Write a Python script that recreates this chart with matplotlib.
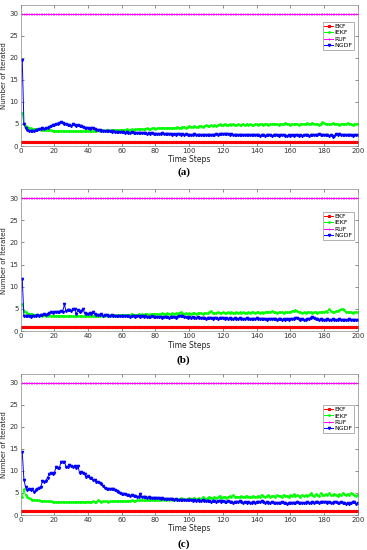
import numpy as np
import matplotlib
matplotlib.use("Agg")
import matplotlib.pyplot as plt

steps = list(range(1, 201))

# constant iteration counts
ekf = [1.0] * 200
ruf = [30.0] * 200

# ---- panel (a)
iekf_a = [7.5, 5.0, 4.5, 4.3, 4.1, 4.0, 3.9, 3.9, 3.8, 3.8,
          3.8, 3.7, 3.7, 3.7, 3.6, 3.6, 3.6, 3.6, 3.5, 3.5,
          3.5, 3.5, 3.5, 3.4, 3.4, 3.4, 3.4, 3.4, 3.4, 3.3,
          3.4, 3.3, 3.4, 3.3, 3.4, 3.4, 3.4, 3.4, 3.5, 3.4,
          3.5, 3.4, 3.5, 3.5, 3.5, 3.6, 3.5, 3.6, 3.6, 3.5,
          3.6, 3.6, 3.5, 3.7, 3.6, 3.6, 3.7, 3.6, 3.7, 3.7,
          3.6, 3.7, 3.8, 3.7, 3.7, 3.8, 3.7, 3.8, 3.8, 3.9,
          3.8, 3.9, 3.8, 3.9, 4.0, 3.9, 3.8, 4.0, 4.1, 3.9,
          4.0, 4.1, 4.0, 4.2, 4.1, 4.0, 4.1, 4.2, 4.1, 4.2,
          4.1, 4.2, 4.3, 4.1, 4.2, 4.3, 4.4, 4.2, 4.3, 4.5,
          4.4, 4.3, 4.5, 4.4, 4.3, 4.5, 4.6, 4.4, 4.5, 4.7,
          4.6, 4.5, 4.7, 4.6, 4.8, 4.6, 4.7, 4.9, 4.7, 4.8,
          5.0, 4.8, 4.7, 4.9, 4.8, 5.0, 4.7, 4.8, 4.9, 4.8,
          4.7, 4.9, 4.8, 5.0, 4.8, 4.9, 4.7, 4.8, 5.0, 4.9,
          4.8, 5.0, 4.9, 4.8, 5.1, 4.9, 4.8, 5.0, 4.9, 5.1,
          4.9, 5.0, 4.8, 5.1, 4.9, 5.0, 5.2, 4.9, 5.0, 4.8,
          5.0, 4.9, 5.1, 5.0, 4.8, 5.0, 5.1, 4.9, 5.0, 5.2,
          4.9, 5.1, 5.3, 5.0, 4.9, 5.0, 4.8, 5.1, 5.4, 5.2,
          5.0, 5.1, 4.9, 5.0, 5.2, 4.9, 5.0, 5.1, 4.8, 5.0,
          5.1, 4.9, 5.0, 5.2, 4.9, 5.0, 4.8, 5.0, 4.9, 5.1]
ngdf_a = [19.5, 5.0, 4.0, 3.6, 3.4, 3.5, 3.3, 3.5, 3.6, 3.7,
          3.8, 3.9, 4.0, 3.9, 4.0, 4.1, 4.3, 4.5, 4.8, 4.7,
          5.0, 4.9, 5.2, 5.5, 5.3, 5.1, 4.9, 4.7, 4.8, 4.6,
          4.9, 4.7, 4.6, 4.8, 4.5, 4.6, 4.3, 4.2, 4.0, 4.1,
          3.9, 4.0, 4.2, 3.8, 3.7, 3.6, 3.6, 3.5, 3.5, 3.4,
          3.4, 3.3, 3.4, 3.2, 3.3, 3.2, 3.2, 3.1, 3.2, 3.1,
          3.1, 3.0, 3.1, 3.0, 3.0, 3.1, 2.9, 3.0, 3.0, 2.9,
          2.9, 3.0, 2.9, 2.9, 2.8, 2.9, 2.8, 2.9, 2.8, 2.8,
          2.8, 2.7, 2.8, 2.9, 2.7, 2.8, 2.7, 2.7, 2.8, 2.6,
          2.7, 2.6, 2.7, 2.8, 2.6, 2.7, 2.6, 2.7, 2.6, 2.6,
          2.5, 2.6, 2.7, 2.6, 2.5, 2.6, 2.6, 2.5, 2.6, 2.5,
          2.6, 2.5, 2.6, 2.5, 2.6, 2.7, 2.6, 2.8, 2.7, 2.8,
          2.7, 2.8, 2.7, 2.6, 2.7, 2.6, 2.5, 2.6, 2.5, 2.4,
          2.5, 2.4, 2.5, 2.4, 2.5, 2.4, 2.6, 2.5, 2.4, 2.5,
          2.4, 2.3, 2.4, 2.5, 2.3, 2.4, 2.5, 2.4, 2.3, 2.4,
          2.5, 2.4, 2.3, 2.4, 2.5, 2.4, 2.3, 2.2, 2.4, 2.3,
          2.4, 2.3, 2.4, 2.5, 2.3, 2.4, 2.3, 2.4, 2.5, 2.4,
          2.3, 2.4, 2.5, 2.4, 2.6, 2.5, 2.7, 2.6, 2.5, 2.6,
          2.4, 2.5, 2.3, 2.4, 2.1, 2.2, 2.8, 2.6, 2.7, 2.5,
          2.6, 2.5, 2.4, 2.6, 2.5, 2.4, 2.3, 2.4, 2.5, 2.4]

# ---- panel (b)
iekf_b = [6.0, 4.6, 4.2, 4.0, 3.9, 3.8, 3.8, 3.7, 3.7, 3.6,
          3.6, 3.6, 3.5, 3.6, 3.5, 3.5, 3.6, 3.5, 3.4, 3.5,
          3.5, 3.4, 3.5, 3.4, 3.5, 3.4, 3.3, 3.4, 3.5, 3.4,
          3.4, 3.3, 3.4, 3.5, 3.4, 3.3, 3.4, 3.4, 3.5, 3.4,
          3.4, 3.5, 3.4, 3.5, 3.5, 3.4, 3.5, 3.6, 3.5, 3.5,
          3.6, 3.5, 3.6, 3.5, 3.6, 3.6, 3.5, 3.6, 3.7, 3.6,
          3.6, 3.7, 3.6, 3.7, 3.6, 3.9, 3.7, 3.6, 3.7, 3.8,
          3.7, 3.8, 3.7, 3.8, 3.9, 3.7, 3.8, 3.8, 3.9, 3.8,
          3.9, 3.8, 3.9, 4.0, 3.8, 3.9, 4.0, 3.9, 3.8, 4.0,
          3.9, 4.0, 3.9, 4.1, 4.3, 4.0, 3.9, 4.0, 3.9, 4.0,
          3.9, 4.0, 4.1, 3.9, 4.0, 4.1, 4.0, 3.9, 4.1, 4.0,
          4.0, 4.2, 4.5, 4.1, 4.0, 4.1, 4.2, 4.0, 4.1, 4.2,
          4.1, 4.0, 4.2, 4.1, 4.3, 4.1, 4.0, 4.2, 4.1, 4.2,
          4.1, 4.2, 4.0, 4.1, 4.2, 4.1, 4.3, 4.2, 4.1, 4.2,
          4.3, 4.1, 4.2, 4.1, 4.2, 4.4, 4.2, 4.3, 4.5, 4.3,
          4.2, 4.1, 4.2, 4.3, 4.2, 4.1, 4.2, 4.3, 4.2, 4.4,
          4.5, 4.6, 4.8, 4.5, 4.3, 4.2, 4.1, 4.2, 4.1, 4.2,
          4.3, 4.2, 4.1, 4.2, 4.3, 4.1, 4.2, 4.3, 4.4, 4.3,
          4.5, 4.4, 4.9, 4.5, 4.3, 4.4, 4.5, 4.6, 4.7, 4.9,
          5.0, 4.7, 4.4, 4.2, 4.3, 4.2, 4.1, 4.2, 4.3, 4.2]
ngdf_b = [11.7, 3.4, 3.5, 3.3, 3.4, 3.2, 3.4, 3.5, 3.4, 3.6,
          3.5, 3.7, 3.6, 3.8, 3.7, 3.9, 4.0, 4.2, 4.1, 4.3,
          4.2, 4.4, 4.3, 4.6, 4.4, 6.0, 4.5, 4.7, 4.8, 4.6,
          4.9, 5.0, 3.9, 4.7, 4.2, 4.6, 5.0, 4.0, 3.8, 3.9,
          4.1, 3.8, 4.2, 3.9, 3.6, 3.7, 3.6, 3.8, 3.5, 3.7,
          3.6, 3.5, 3.4, 3.6, 3.5, 3.4, 3.5, 3.3, 3.4, 3.5,
          3.4, 3.3, 3.4, 3.3, 3.2, 3.4, 3.3, 3.2, 3.3, 3.4,
          3.2, 3.3, 3.2, 3.4, 3.2, 3.1, 3.2, 3.3, 3.2, 3.1,
          3.2, 3.1, 3.2, 3.0, 3.1, 3.2, 3.1, 3.0, 3.1, 3.2,
          3.1, 3.0, 3.2, 3.3, 3.4, 3.3, 3.2, 3.1, 3.0, 3.1,
          3.0, 3.1, 2.9, 3.0, 3.1, 2.9, 3.0, 2.9, 3.0, 2.8,
          2.9, 3.0, 2.9, 2.8, 3.0, 2.9, 2.8, 2.9, 3.0, 2.9,
          2.8, 2.9, 2.8, 2.9, 2.7, 2.8, 2.9, 2.8, 2.7, 2.9,
          2.8, 2.7, 2.8, 2.9, 2.8, 2.7, 2.8, 2.7, 2.8, 2.9,
          2.8, 2.7, 2.8, 2.7, 2.8, 2.6, 2.7, 2.8, 2.7, 2.8,
          2.7, 2.6, 2.7, 2.8, 2.6, 2.7, 2.6, 2.7, 2.6, 2.7,
          2.8, 2.7, 2.9, 3.0, 2.7, 2.6, 2.7, 2.6, 2.5, 2.7,
          2.8, 2.9, 3.1, 3.0, 2.8, 2.7, 2.6, 2.7, 2.6, 2.5,
          2.6, 2.7, 2.6, 2.5, 2.7, 2.6, 2.5, 2.6, 2.7, 2.6,
          2.5, 2.6, 2.5, 2.6, 2.7, 2.5, 2.6, 2.5, 2.6, 2.6]

# ---- panel (c)
iekf_c = [4.0, 5.8, 4.6, 4.0, 3.8, 3.6, 3.5, 3.4, 3.4, 3.3,
          3.3, 3.2, 3.2, 3.2, 3.1, 3.1, 3.1, 3.1, 3.0, 3.0,
          3.0, 3.0, 3.0, 3.0, 2.9, 3.0, 2.9, 2.9, 3.0, 2.9,
          2.9, 3.0, 2.9, 3.0, 3.0, 2.9, 3.0, 3.0, 3.0, 3.0,
          3.0, 3.0, 3.1, 3.0, 3.0, 3.3, 3.1, 3.0, 3.1, 3.1,
          3.1, 3.0, 3.1, 3.1, 3.1, 3.2, 3.1, 3.1, 3.2, 3.1,
          3.2, 3.2, 3.1, 3.2, 3.2, 3.3, 3.2, 3.2, 3.3, 3.3,
          3.3, 3.4, 3.3, 3.3, 3.4, 3.3, 3.4, 3.5, 3.4, 3.4,
          3.5, 3.4, 3.5, 3.6, 3.4, 3.5, 3.7, 3.5, 3.6, 3.5,
          3.6, 3.7, 3.5, 3.6, 3.8, 3.6, 3.7, 3.5, 3.7, 3.8,
          3.6, 3.7, 3.9, 3.7, 3.6, 3.8, 3.7, 4.0, 3.8, 3.7,
          3.9, 4.2, 3.8, 3.9, 4.1, 3.8, 4.0, 4.4, 3.9, 4.0,
          4.2, 3.9, 4.1, 4.3, 4.0, 4.5, 4.1, 4.0, 4.2, 4.1,
          4.3, 4.0, 4.2, 4.4, 4.1, 4.2, 4.0, 4.3, 4.2, 4.1,
          4.4, 4.2, 4.6, 4.3, 4.1, 4.3, 4.5, 4.2, 4.4, 4.3,
          4.2, 4.5, 4.3, 4.4, 4.2, 4.6, 4.3, 4.4, 4.2, 4.5,
          4.4, 4.7, 4.3, 4.5, 4.4, 4.2, 4.6, 4.4, 4.5, 4.3,
          4.6, 4.9, 4.5, 4.4, 4.7, 4.5, 4.4, 5.0, 4.6, 4.5,
          4.7, 4.5, 4.9, 4.6, 4.5, 4.8, 4.6, 4.4, 4.7, 4.5,
          5.0, 4.7, 4.6, 4.8, 4.6, 4.9, 4.7, 4.5, 4.4, 4.6]
ngdf_c = [14.3, 8.0, 6.3, 5.7, 5.8, 5.6, 5.8, 5.3, 5.6, 6.0,
          6.2, 6.3, 7.8, 7.6, 7.8, 8.5, 9.3, 9.5, 9.3, 9.5,
          10.8, 10.6, 10.7, 12.0, 12.0, 12.0, 11.0, 10.8, 11.3, 11.2,
          10.9, 11.2, 10.7, 11.2, 9.5, 9.8, 9.6, 9.2, 8.7, 8.8,
          8.5, 8.3, 8.0, 7.9, 7.6, 7.4, 7.2, 7.0, 6.6, 6.2,
          6.0, 5.8, 6.0, 5.8, 5.9, 5.7, 5.5, 5.2, 5.0, 4.8,
          4.7, 4.8, 4.5, 4.6, 4.4, 4.5, 4.3, 4.4, 4.2, 4.2,
          4.8, 4.0, 4.1, 4.0, 3.9, 4.0, 3.9, 3.8, 3.9, 3.9,
          3.8, 3.9, 3.7, 3.8, 3.7, 3.6, 3.7, 3.6, 3.7, 3.6,
          3.5, 3.6, 3.5, 3.4, 3.5, 3.4, 3.3, 3.4, 3.3, 3.3,
          3.4, 3.2, 3.3, 3.2, 3.3, 3.1, 3.2, 3.3, 3.1, 3.2,
          3.1, 3.2, 3.0, 3.1, 3.2, 3.0, 3.1, 3.2, 3.0, 3.1,
          3.0, 2.9, 3.1, 2.9, 3.0, 2.8, 2.9, 3.0, 2.9, 3.1,
          2.9, 2.8, 2.9, 2.8, 2.9, 2.7, 2.8, 2.9, 2.8, 2.9,
          3.0, 2.9, 3.1, 3.0, 2.8, 2.9, 2.7, 2.8, 2.9, 2.8,
          2.7, 2.8, 2.7, 2.8, 2.9, 2.7, 2.8, 2.6, 2.7, 2.7,
          2.8, 2.7, 2.8, 2.9, 2.7, 2.8, 2.7, 2.8, 2.7, 2.9,
          2.8, 2.7, 2.9, 2.8, 3.0, 2.9, 2.8, 3.0, 2.9, 3.0,
          2.9, 2.8, 2.9, 2.7, 2.8, 3.0, 2.9, 2.7, 2.8, 2.9,
          2.7, 2.8, 2.6, 2.7, 2.5, 2.8, 3.0, 2.9, 2.6, 2.7]

panels = [("(a)", iekf_a, ngdf_a, 0.88),
          ("(b)", iekf_b, ngdf_b, 0.84),
          ("(c)", iekf_c, ngdf_c, 0.78)]

# axes boxes [left, bottom, width, height] in figure fraction
boxes = [[0.056, 0.7345, 0.919, 0.2565],
         [0.056, 0.398, 0.919, 0.258],
         [0.056, 0.0636, 0.919, 0.2565]]
caption_y = [0.687, 0.345, 0.01]

fig = plt.figure(figsize=(3.67, 5.5), dpi=100)

for p in range(3):
    label, iekf, ngdf, leg_top = panels[p]
    ax = fig.add_axes(boxes[p])
    ax.plot(steps, ekf, color='#ff0000', marker='*', ms=2.0, lw=0.7, label='EKF')
    ax.plot(steps, iekf, color='#00ff00', marker='.', ms=2.0, lw=0.7, label='IEKF')
    ax.plot(steps, ruf, color='#ff00ff', marker='+', ms=2.0, mew=0.6, lw=0.7, label='RUF')
    ax.plot(steps, ngdf, color='#0000ff', marker='v', ms=1.6, lw=0.7, label='NGDF')

    ax.set_xlim(0, 200)
    ax.set_ylim(0, 32)
    ax.set_xticks(range(0, 201, 20))
    ax.set_yticks(range(0, 31, 5))
    ax.tick_params(direction='in', length=2, width=0.4, labelsize=5,
                   colors='#333333', top=True, right=True, pad=1.5)
    for s in ax.spines.values():
        s.set_linewidth(0.5)
        s.set_color('#888888')
    ax.set_xlabel('Time Steps', fontsize=5.5, labelpad=1, color='#222222')
    ax.set_ylabel('Number of Iterated', fontsize=5, labelpad=2, color='#222222')

    leg = ax.legend(loc='upper right', bbox_to_anchor=(0.99, leg_top), fontsize=4.5,
                    frameon=True, fancybox=False, edgecolor='#555555',
                    handlelength=1.3, handletextpad=0.3, borderpad=0.3,
                    labelspacing=0.15, borderaxespad=0)
    leg.get_frame().set_linewidth(0.4)

    fig.text(0.5, caption_y[p], label, ha='center', va='center',
             fontsize=8, fontweight='bold', family='Liberation Serif')

fig.savefig('out.png', dpi=100)
